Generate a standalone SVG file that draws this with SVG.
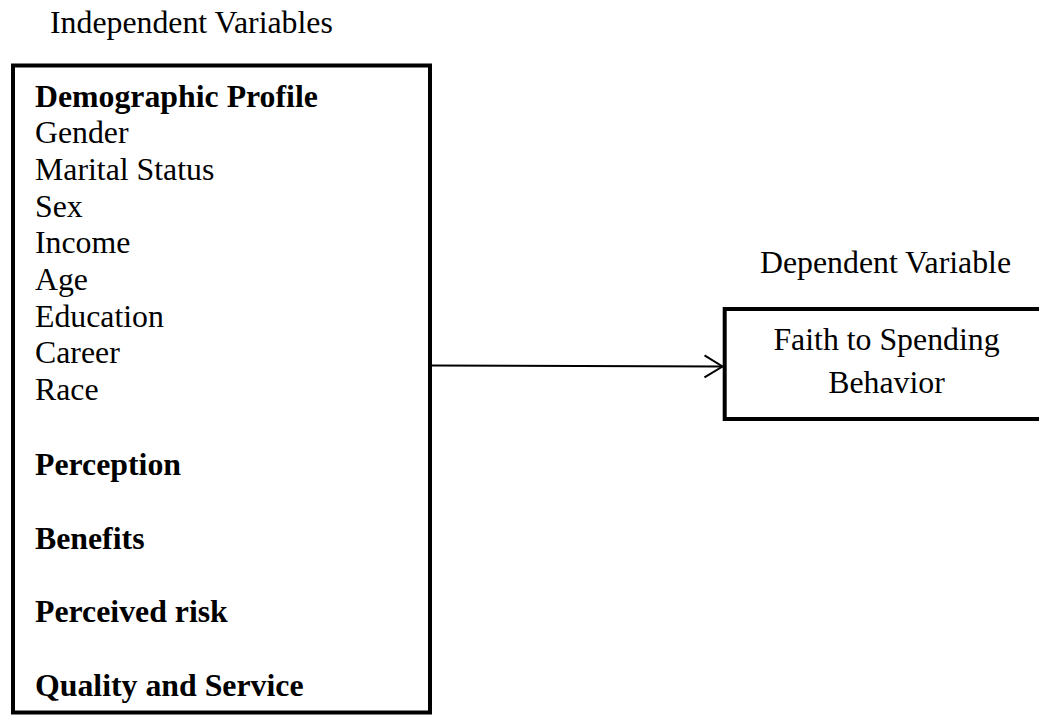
<svg xmlns="http://www.w3.org/2000/svg" width="1039" height="717" viewBox="0 0 1039 717">
<style>
.t{font-family:"Liberation Serif","Times New Roman",serif;font-size:31.8px;fill:#000}
.b{font-weight:bold}
.box{fill:#fff;stroke:#000;stroke-width:4}
.c{fill:none;stroke:#000;stroke-width:2}
</style>
<defs>
<marker id="arr" markerUnits="userSpaceOnUse" markerWidth="24" markerHeight="28" refX="19" refY="12" orient="auto">
<path d="M1,1 L19,12 L1,23" fill="none" stroke="#000" stroke-width="2"/>
</marker>
</defs>
<rect width="1039" height="717" fill="#fff"/>
<text class="t" x="50" y="33">Independent Variables</text>
<text class="t" x="760" y="273">Dependent Variable</text>
<g id="independent">
<rect class="box" x="13" y="65.5" width="417" height="647"/>
<text class="t b" x="35" y="106.5">Demographic Profile</text>
<text class="t" x="35" y="143.2">Gender</text>
<text class="t" x="35" y="179.9">Marital Status</text>
<text class="t" x="35" y="216.6">Sex</text>
<text class="t" x="35" y="253.3">Income</text>
<text class="t" x="35" y="290">Age</text>
<text class="t" x="35" y="326.7">Education</text>
<text class="t" x="35" y="363.4">Career</text>
<text class="t" x="35" y="400.1">Race</text>
<text class="t b" x="35" y="475">Perception</text>
<text class="t b" x="35" y="548.5">Benefits</text>
<text class="t b" x="35" y="622">Perceived risk</text>
<text class="t b" x="35" y="695.5">Quality and Service</text>
</g>
<g id="dependent">
<rect class="box" x="724.7" y="309" width="400" height="110"/>
<text class="t" x="886.5" y="350" text-anchor="middle">Faith to Spending</text>
<text class="t" x="886.5" y="393" text-anchor="middle">Behavior</text>
</g>
<g id="connectors">
<line class="c" x1="432" y1="365.5" x2="722.5" y2="366.5" marker-end="url(#arr)"/>
</g>
</svg>
